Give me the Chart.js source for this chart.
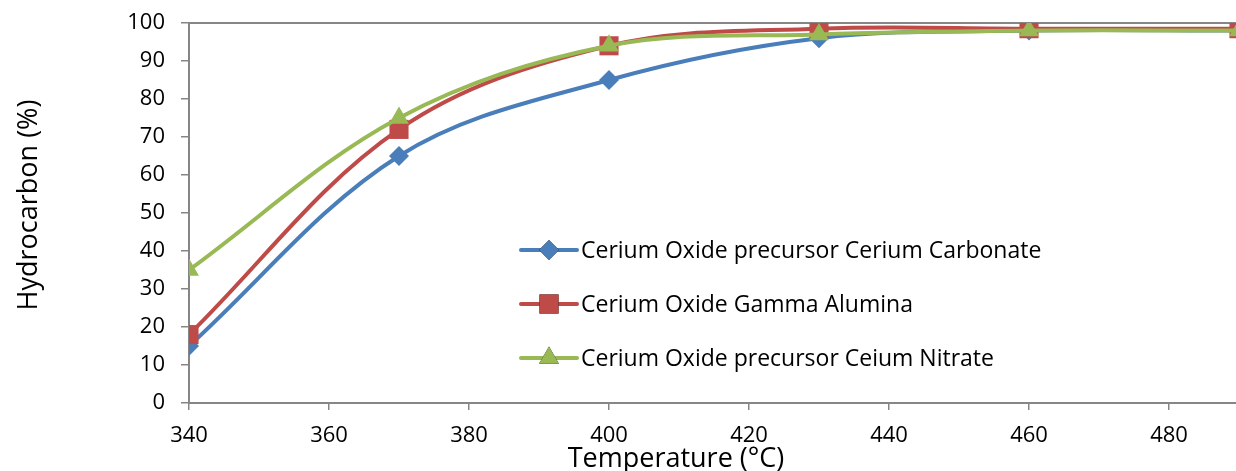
<!DOCTYPE html>
<html>
<head>
<meta charset="utf-8">
<script src="https://cdn.jsdelivr.net/npm/chart.js@4.4.0/dist/chart.umd.min.js"></script>
<style>
  html, body { margin: 0; padding: 0; background: #fff; overflow: hidden; }
  #wrap { width: 1240px; height: 471px; }
</style>
</head>
<body>
<div id="wrap"><canvas id="c" width="1240" height="471"></canvas></div>
<script>
// ---- data
var temps = [340, 370, 400, 430, 460, 490];
var carbonate = [15, 65, 85, 96, 98, 98];
var alumina = [18, 72, 94, 98.5, 98.5, 98.5];
var nitrate = [35, 75, 94, 97, 98, 98];
var xTicks = [340, 360, 380, 400, 420, 440, 460, 480];
var seriesNames = [
  'Cerium Oxide precursor Cerium Carbonate',
  'Cerium Oxide Gamma Alumina',
  'Cerium Oxide precursor Ceium Nitrate'
];
var xTitle = 'Temperature (°C)';
var yTitle = 'Hydrocarbon (%)';

var AXIS = '#868686';
var FONT = '"Open Sans", "Liberation Sans", sans-serif';

function pts(ys) {
  return temps.map(function (t, i) { return { x: t, y: ys[i] }; });
}

// legend drawn inside the plot, like the original
var insideLegend = {
  id: 'insideLegend',
  afterDraw: function (chart) {
    var ctx = chart.ctx;
    var x0 = 521, x1 = 577, rows = [250, 304, 358];
    ctx.save();
    chart.data.datasets.forEach(function (ds, i) {
      var y = rows[i];
      ctx.strokeStyle = ds.borderColor;
      ctx.lineWidth = 4;
      ctx.lineCap = 'round';
      ctx.beginPath();
      ctx.moveTo(x0, y);
      ctx.lineTo(x1, y);
      ctx.stroke();
      Chart.helpers.drawPoint(ctx, {
        pointStyle: ds.pointStyle, radius: ds.pointRadius, borderWidth: 0
      }, (x0 + x1) / 2, y);
      ctx.fillStyle = ds.backgroundColor;
      ctx.fill();
      ctx.fillStyle = '#000';
      ctx.font = '23px ' + FONT;
      ctx.textBaseline = 'middle';
      ctx.fillText(ds.label, x1 + 4, y + 1);
    });
    ctx.restore();
  }
};

// top border of the plot area + axis titles (placed like the original)
var frame = {
  id: 'frame',
  beforeDatasetsDraw: function (chart) {
    var a = chart.chartArea, ctx = chart.ctx;
    ctx.save();
    ctx.strokeStyle = AXIS;
    ctx.lineWidth = 2;
    ctx.beginPath();
    ctx.moveTo(a.left, a.top);
    ctx.lineTo(a.right, a.top);
    ctx.stroke();

    ctx.fillStyle = '#000';
    ctx.textAlign = 'center';
    ctx.textBaseline = 'alphabetic';
    ctx.font = '27px ' + FONT;
    ctx.fillText(xTitle, 676, 467);

    ctx.translate(37, 205);
    ctx.rotate(-Math.PI / 2);
    ctx.font = '27px ' + FONT;
    ctx.fillText(yTitle, 0, 0);
    ctx.restore();
  }
};

function mk(label, ys, color, style, r, order) {
  return {
    label: label,
    data: pts(ys),
    borderColor: color,
    backgroundColor: color,
    borderWidth: 4,
    pointStyle: style,
    pointRadius: r,
    pointBorderWidth: 0,
    pointHoverRadius: r,
    tension: 0.35,
    order: order
  };
}

new Chart(document.getElementById('c'), {
  type: 'line',
  data: {
    datasets: [
      mk(seriesNames[0], carbonate, '#4A7EBB', 'rectRot', 10, 3),
      mk(seriesNames[1], alumina, '#BE4B48', 'rect', 13.5, 2),
      mk(seriesNames[2], nitrate, '#98B954', 'triangle', 11.5, 1)
    ]
  },
  options: {
    responsive: false,
    animation: false,
    layout: { autoPadding: false, padding: { top: 23, right: 1, left: 0, bottom: 0 } },
    plugins: { legend: { display: false }, tooltip: { enabled: false } },
    scales: {
      x: {
        type: 'linear',
        min: 340,
        max: 490,
        afterBuildTicks: function (s) { s.ticks = xTicks.map(function (v) { return { value: v }; }); },
        afterFit: function (s) { s.height = 68; s.paddingRight = 0; s.paddingLeft = 0; },
        border: { color: AXIS, width: 2 },
        grid: { drawOnChartArea: false, color: AXIS, tickLength: 7, lineWidth: 1.5 },
        ticks: { color: '#000', font: { family: FONT, size: 22 }, padding: 13, maxRotation: 0 }
      },
      y: {
        min: 0,
        max: 100,
        ticks: { stepSize: 10, color: '#000', font: { family: FONT, size: 22 }, padding: 16 },
        afterFit: function (s) { s.width = 189; s.paddingTop = 0; s.paddingBottom = 0; },
        border: { color: AXIS, width: 2 },
        grid: { drawOnChartArea: false, color: AXIS, tickLength: 8, lineWidth: 1.5 }
      }
    }
  },
  plugins: [frame, insideLegend]
});
</script>
</body>
</html>
